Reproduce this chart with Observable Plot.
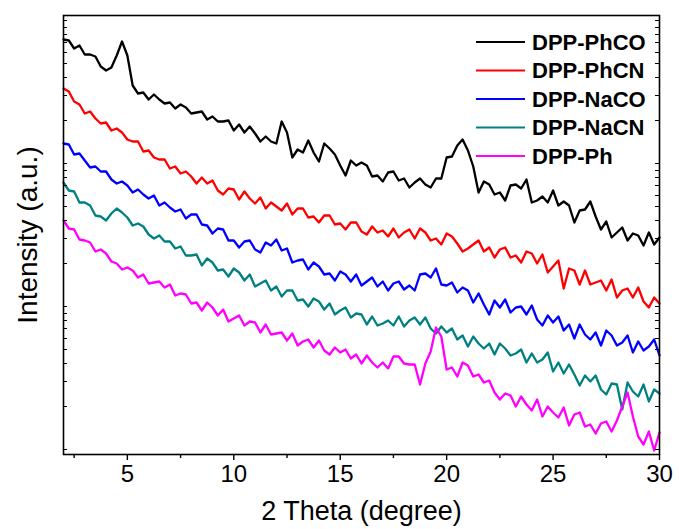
<!DOCTYPE html>
<html><head><meta charset="utf-8">
<script src="https://cdn.jsdelivr.net/npm/d3@7"></script>
<script src="https://cdn.jsdelivr.net/npm/@observablehq/plot@0.6"></script>
<style>body{margin:0;background:#fff}</style>
</head><body><div id="chart"></div>
<script>
const twoTheta = [2,2.25,2.5,2.75,3,3.25,3.5,3.75,4,4.25,4.5,4.75,5,5.25,5.5,5.75,6,6.25,6.5,6.75,7,7.25,7.5,7.75,8,8.25,8.5,8.75,9,9.25,9.5,9.75,10,10.25,10.5,10.75,11,11.25,11.5,11.75,12,12.25,12.5,12.75,13,13.25,13.5,13.75,14,14.25,14.5,14.75,15,15.25,15.5,15.75,16,16.25,16.5,16.75,17,17.25,17.5,17.75,18,18.25,18.5,18.75,19,19.25,19.5,19.75,20,20.25,20.5,20.75,21,21.25,21.5,21.75,22,22.25,22.5,22.75,23,23.25,23.5,23.75,24,24.25,24.5,24.75,25,25.25,25.5,25.75,26,26.25,26.5,26.75,27,27.25,27.5,27.75,28,28.25,28.5,28.75,29,29.25,29.5,29.75,30];

const seriesNames = ["DPP-PhCO", "DPP-PhCN", "DPP-NaCO", "DPP-NaCN", "DPP-Ph"];
const seriesColors = ["#000000", "#ff0000", "#0000ff", "#008080", "#ff00ff"];

// intensities (a.u., offset stacked), one value per 2θ above
const phCO = [415,414,406,409, 400,400,398,388, 384,387,399,413, 399,369,361,362, 355,360,355,351, 352,346,350,347, 341,342,343,335, 338,333,333,334, 324,330,322,328, 321,313,318,313, 311,333,322,297, 305,302,314,302, 293,311,306,300, 289,279,294,289, 292,289,278,279, 273,282,283,274, 276,267,272,276, 270,267,276,276, 297,298,309,315, 304,288,262,273, 270,260,262,254, 269,270,266,275, 252,254,258,252, 264,249,253,249, 232,244,245,253, 238,225,233,217, 222,227,214,221, 219,209,222,210, 217];
const phCN = [366,363,353,350, 341,343,336,331, 332,324,326,322, 315,313,313,303, 304,297,295,295, 286,288,281,283, 278,271,277,271, 274,264,260,266, 265,255,263,256, 251,257,246,252, 248,244,251,240, 246,246,237,238, 232,239,239,230, 231,225,232,232, 223,220,228,222, 224,218,226,217, 222,225,216,226, 222,214,216,210, 221,218,211,203, 206,210,214,203, 207,197,205,207, 197,199,192,203, 201,191,200,182, 188,194,166,186, 184,170,184,170, 172,174,164,175, 157,164,166,157, 167,153,147,157, 151];
const naCO = [311,310,300,301, 294,287,288,283, 283,275,271,273, 269,262,265,260, 256,259,249,252, 247,243,245,236, 240,240,230,229, 221,226,225,214, 214,207,213,214, 205,202,212,209, 215,204,206,192, 194,195,185,192, 188,180,181,174, 183,180,173,180, 169,173,177,168, 173,164,171,173, 165,169,164,180, 181,177,186,170, 169,172,162,167, 164,152,161,150, 140,154,147,155, 142,147,148,140, 149,135,129,139, 132,138,124,130, 116,130,120,115, 122,109,124,119, 109,112,119,102, 113,104,108,115, 99];
const naCN = [272,264,263,252, 252,249,239,238, 234,241,246,242, 237,229,231,228, 220,216,219,213, 213,206,208,199, 199,200,189,196, 192,184,185,178, 186,182,174,180, 168,171,174,164, 168,158,164,164, 154,155,148,156, 153,145,151,140, 144,147,137,141, 140,130,138,129, 131,134,129,138, 128,134,137,130, 137,126,121,128, 122,126,115,119, 108,118,111,106, 111,100,111,106, 99,101,105,92, 101,92,95,102, 83,92,81,90, 80,69,79,73, 79,65,60,71, 70,45,72,63, 58,70,53,65, 61];
const ph = [234,226,225,215, 214,212,203,205, 201,193,191,185, 187,184,177,180, 171,172,173,167, 170,159,161,160, 151,152,144,152, 147,139,145,133, 136,139,129,133, 132,122,130,120, 121,122,114,121, 109,113,115,107, 114,104,100,107, 102,105,96,100, 91,99,92,87, 92,86,98,98, 91,90,90,70, 91,103,127,118, 85,87,78,92, 89,78,80,72, 74,62,55,61, 59,48,58,50, 44,55,38,48, 42,37,47,29, 40,42,28,30, 21,31,33,23, 34,48,62,38, 18,10,23,4, 22];

const xMajorTicks = [5, 10, 15, 20, 25, 30];
const xMinorTicks = [2.5, 7.5, 12.5, 17.5, 22.5, 27.5];
const yTicks = [5, 48, 73, 91, 105, 116, 126, 134, 141, 148, 191, 216, 234, 248, 259, 269, 277, 284, 291, 334, 359, 377, 391, 402, 412, 420, 427, 434];

const seriesValues = [phCO, phCN, naCO, naCN, ph];
const table = seriesValues.flatMap((vals, k) =>
  twoTheta.map((x, i) => ({x, y: vals[i], name: seriesNames[k]})));

const font = "'Liberation Sans', Arial, sans-serif";

const chart = Plot.plot({
  width: 679, height: 529,
  marginLeft: 63, marginRight: 20, marginTop: 15, marginBottom: 75,
  style: {fontFamily: font, background: "#fff", color: "#000"},
  x: {domain: [2, 30], label: null},
  y: {domain: [0, 439], label: null},
  color: {domain: seriesNames, range: seriesColors},
  marks: [
    Plot.line(table, {x: "x", y: "y", z: "name", stroke: "name", strokeWidth: 2.3, strokeLinejoin: "round"}),
    Plot.frame({stroke: "#000", strokeWidth: 1.6}),
    Plot.axisX({ticks: xMajorTicks, tickSize: 6, tickPadding: 4, fontSize: 24, label: null, strokeWidth: 1.4}),
    Plot.axisX({ticks: xMinorTicks, tickSize: 4, tickFormat: () => "", label: null, strokeWidth: 1.4}),
    Plot.axisY({ticks: [], label: null}),
    Plot.tickY(yTicks, {y: d => d, insetRight: 592, strokeWidth: 1}),
    Plot.tickY(yTicks, {y: d => d, insetLeft: 592, strokeWidth: 1}),
    Plot.text(["2 Theta (degree)"], {frameAnchor: "bottom", dy: 65, fontSize: 27, text: d => d}),
    Plot.text(["Intensity (a.u.)"], {frameAnchor: "left", dx: -35, rotate: -90, textAnchor: "middle", fontSize: 28, text: d => d})
  ]
});

// legend inside the frame (top right)
const svg = d3.select(chart);
const lg = svg.append("g").attr("font-family", font).attr("font-weight", "bold")
  .attr("font-size", 22).attr("text-anchor", "start");
seriesNames.forEach((name, i) => {
  const y = 42 + i * 28.5;
  lg.append("line").attr("x1", 476).attr("x2", 525).attr("y1", y).attr("y2", y)
    .attr("stroke", seriesColors[i]).attr("stroke-width", 2);
  lg.append("text").attr("x", 532).attr("y", y).attr("dy", "0.36em").attr("fill", "#000").text(name);
});

document.getElementById("chart").append(chart);
</script>
</body></html>
